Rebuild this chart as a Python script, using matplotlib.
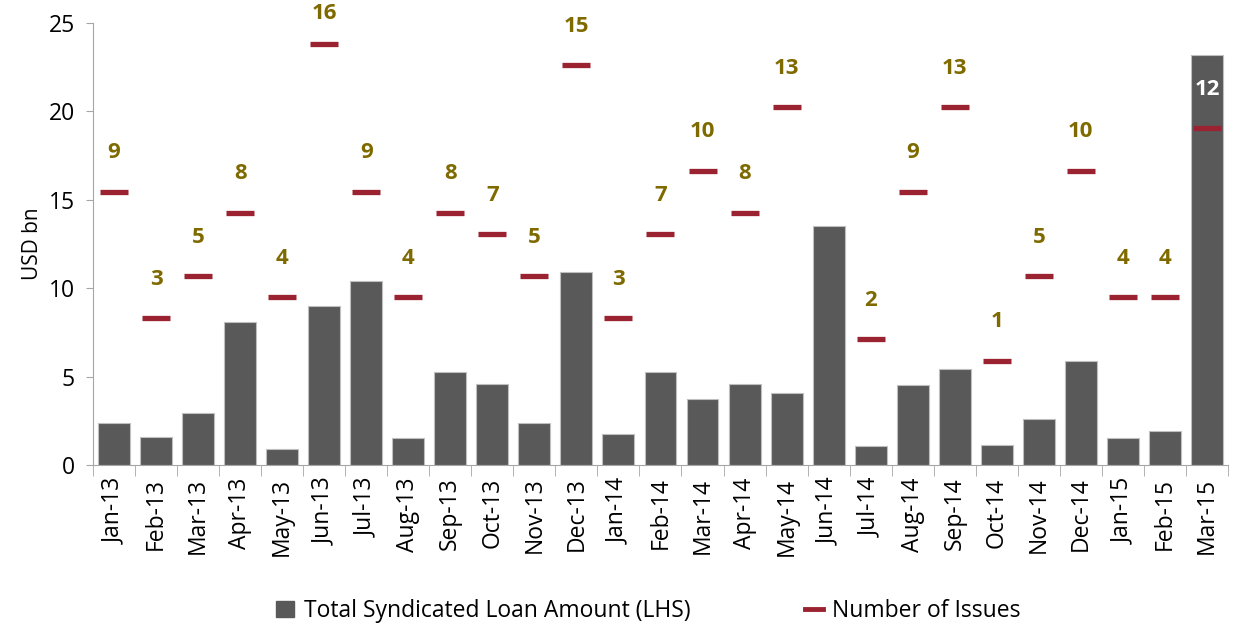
import numpy as np
import matplotlib.pyplot as plt
from matplotlib.lines import Line2D
from matplotlib.patches import Patch

plt.rcParams['font.family'] = ['Open Sans', 'DejaVu Sans']

months = ["Jan-13", "Feb-13", "Mar-13", "Apr-13", "May-13", "Jun-13", "Jul-13",
          "Aug-13", "Sep-13", "Oct-13", "Nov-13", "Dec-13", "Jan-14", "Feb-14",
          "Mar-14", "Apr-14", "May-14", "Jun-14", "Jul-14", "Aug-14", "Sep-14",
          "Oct-14", "Nov-14", "Dec-14", "Jan-15", "Feb-15", "Mar-15"]
loan_amount = [2.4, 1.6, 2.95, 8.1, 0.9, 9.0, 10.4, 1.5, 5.25, 4.6, 2.35, 10.9,
               1.75, 5.25, 3.75, 4.6, 4.05, 13.5, 1.1, 4.5, 5.45, 1.15, 2.6,
               5.9, 1.55, 1.95, 23.2]
num_issues = [9, 3, 5, 8, 4, 16, 9, 4, 8, 7, 5, 15, 3, 7, 10, 8, 13, np.nan,
              2, 9, 13, 1, 5, 10, 4, 4, 12]

bar_color = "#595959"
issue_color = "#9B2230"
label_color = "#7F6A00"
axis_gray = "#A6A6A6"

fig = plt.figure(figsize=(12.35, 6.25), dpi=100)
ax = fig.add_axes([0.0753, 0.256, 0.919, 0.7072])
x = np.arange(len(months))

ax.bar(x, loan_amount, width=0.76, color=bar_color, edgecolor="#BFBFBF",
       linewidth=0.8, zorder=2)
ax.set_xlim(-0.5, len(months) - 0.5)
ax.set_ylim(0, 25)
ax.set_yticks([0, 5, 10, 15, 20, 25])
ax.set_ylabel("USD bn", fontsize=15, labelpad=4)
ax.tick_params(axis='y', labelsize=16.5, length=5, color=axis_gray, pad=8)
ax.set_xticks(x)
ax.set_xticklabels(months, rotation=90, fontsize=16.5)
ax.tick_params(axis='x', length=0, pad=9)
ax.set_xticks(np.arange(-0.5, len(months)), minor=True)
ax.tick_params(axis='x', which='minor', length=8, color=axis_gray)
for s in ["top", "right"]:
    ax.spines[s].set_visible(False)
for s in ["left", "bottom"]:
    ax.spines[s].set_color(axis_gray)

# number of issues on a hidden secondary axis
ax2 = ax.twinx()
ax2.set_ylim(-3.95, 17.0)
ax2.plot(x, num_issues, linestyle="none", marker="_", markersize=19.5,
         markeredgewidth=3.8, color=issue_color, zorder=3)
ax2.axis("off")
top_issue = np.nanmax(num_issues)
for i, n in enumerate(num_issues):
    if np.isnan(n):
        continue
    c = "white" if i == len(months) - 1 else label_color
    off = 22 if n == top_issue else 28
    ax2.annotate(f"{int(n)}", (i, n), xytext=(0, off), textcoords="offset points",
                 ha="center", va="center", fontsize=16, fontweight="bold",
                 color=c)

handles = [Patch(facecolor=bar_color, edgecolor=bar_color),
           Line2D([0], [0], color=issue_color, linewidth=3.5)]
fig.legend(handles, ["Total Syndicated Loan Amount (LHS)", "Number of Issues"],
           loc="lower center", bbox_to_anchor=(0.525, -0.03), ncol=2,
           frameon=False, fontsize=16.5, handlelength=0.8, handletextpad=0.4,
           columnspacing=5.0)

fig.savefig("out.png", dpi=100)
